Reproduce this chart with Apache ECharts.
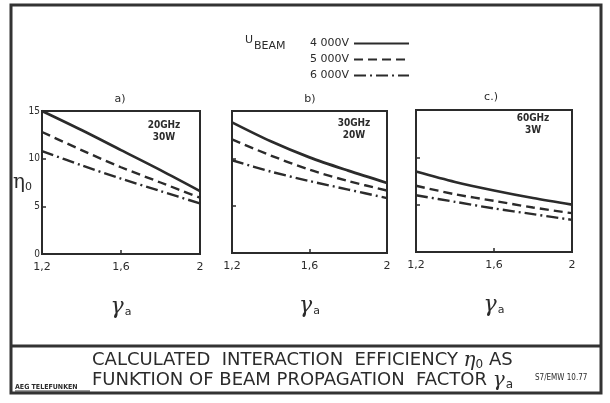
<!DOCTYPE html>
<html>
<head>
<meta charset="utf-8">
<script src="https://cdn.jsdelivr.net/npm/echarts@6/dist/echarts.min.js"></script>
<style>html,body{margin:0;padding:0;background:#fff;}#c{width:610px;height:403px;}</style>
</head>
<body>
<div id="c"></div>
<script>
// ---- data ----
const xValues = [1.2, 1.4, 1.6, 1.8, 2.0];
const seriesNames = ['4 000V', '5 000V', '6 000V'];
const panelLabels = ['a)', 'b)', 'c.)'];
const panelNotes = ['20GHz\n30W', '30GHz\n20W', '60GHz\n3W'];
// panel a (20 GHz, 30 W)
const a4000 = [15.0, 13.0, 10.9, 8.8, 6.6];
const a5000 = [12.8, 10.9, 9.1, 7.5, 5.9];
const a6000 = [10.8, 9.3, 7.9, 6.6, 5.3];
// panel b (30 GHz, 20 W)
const b4000 = [13.8, 11.8, 10.1, 8.7, 7.4];
const b5000 = [12.0, 10.3, 8.8, 7.6, 6.6];
const b6000 = [9.8, 8.6, 7.6, 6.7, 5.8];
// panel c (60 GHz, 3 W)
const c4000 = [8.5, 7.4, 6.5, 5.7, 5.0];
const c5000 = [7.0, 6.1, 5.4, 4.7, 4.1];
const c6000 = [6.0, 5.3, 4.6, 4.0, 3.4];
const yTicks = [0, 5, 10, 15];
const xTickLabels = ['1,2', '1,6', '2'];

const panels = [[a4000, a5000, a6000], [b4000, b5000, b6000], [c4000, c5000, c6000]];

// ---- layout ----
const ink = '#2b2b2b';
const grids = [
  {left: 42, top: 111, width: 158, height: 143},
  {left: 232, top: 111, width: 155, height: 142},
  {left: 416, top: 110, width: 156, height: 142}
];
const lineTypes = ['solid', [9, 5], [12, 4, 2, 4]];

const chart = echarts.init(document.getElementById('c'), null, {renderer: 'canvas'});

const xAxes = grids.map((g, i) => ({
  gridIndex: i, type: 'value', min: 1.2, max: 2.0, interval: 0.4,
  axisLine: {show: true, lineStyle: {color: ink, width: 2}},
  axisTick: {show: true, inside: true, length: 4, lineStyle: {color: ink, width: 1.5}},
  splitLine: {show: false},
  axisLabel: {
    margin: 8, color: ink, fontSize: 11, fontFamily: 'DejaVu Sans',
    formatter: v => xTickLabels[Math.round((v - 1.2) / 0.4)] || ''
  },
  name: '{g|γ}{s|a}', nameLocation: 'middle', nameGap: 42,
  nameTextStyle: {rich: {
    g: {fontSize: 22, fontFamily: 'DejaVu Serif', fontStyle: 'italic', color: ink},
    s: {fontSize: 11, fontFamily: 'DejaVu Sans', color: ink, padding: [10, 0, 0, 1]}
  }}
}));

const yAxes = grids.map((g, i) => ({
  gridIndex: i, type: 'value', min: 0, max: 15, interval: 5,
  axisLine: {show: true, lineStyle: {color: ink, width: 2}},
  axisTick: {show: true, inside: true, length: 4, lineStyle: {color: ink, width: 1.5}},
  splitLine: {show: false},
  axisLabel: {show: i === 0, margin: 2, color: ink, fontSize: 10, fontFamily: 'DejaVu Sans Condensed',
    formatter: v => yTicks.indexOf(v) >= 0 ? String(v) : ''},
  name: i === 0 ? '{e|η}{s|0}' : '', nameLocation: 'middle', nameGap: 10, nameRotate: 0,
  nameMoveOverlap: false,
  nameTextStyle: {rich: {
    e: {fontSize: 20, fontFamily: 'DejaVu Serif', color: ink},
    s: {fontSize: 11, fontFamily: 'DejaVu Sans', color: ink, padding: [10, 0, 0, 0]}
  }}
}));

const series = [];
panels.forEach((set, p) => {
  set.forEach((vals, k) => {
    series.push({
      name: seriesNames[k], type: 'line', xAxisIndex: p, yAxisIndex: p,
      data: xValues.map((x, j) => [x, vals[j]]),
      smooth: 0.3, symbol: 'none', silent: true,
      lineStyle: {color: ink, width: k === 0 ? 2.7 : 2.4, type: lineTypes[k]},
      itemStyle: {color: ink}
    });
  });
});

const titles = [];
const labelPos = [[120, 94], [310, 94], [491, 92]];
panelLabels.forEach((t, i) => titles.push({
  text: t, left: labelPos[i][0], top: labelPos[i][1], textAlign: 'center', padding: 0,
  textStyle: {fontSize: 11, fontWeight: 'normal', color: ink, fontFamily: 'DejaVu Sans'}
}));
const notePos = [[164, 119], [354, 117], [533, 112]];
panelNotes.forEach((t, i) => titles.push({
  text: t, left: notePos[i][0], top: notePos[i][1], textAlign: 'center', padding: 0,
  textStyle: {fontSize: 10, fontWeight: 'bold', color: ink, fontFamily: 'DejaVu Sans Condensed', lineHeight: 12}
}));
titles.push({
  text: '{u|U}{b|BEAM}', left: 245, top: 35, padding: 0,
  textStyle: {fontWeight: 'normal', rich: {
    u: {fontSize: 11, fontWeight: 'normal', color: ink, fontFamily: 'DejaVu Sans', padding: [0, 0, 6, 0]},
    b: {fontSize: 11, fontWeight: 'normal', color: ink, fontFamily: 'DejaVu Sans', padding: [6, 0, 0, 1]}
  }}
});
titles.push({
  text: 'CALCULATED  INTERACTION  EFFICIENCY {e|η}{s|0} AS', left: 92, top: 350, padding: 0,
  textStyle: {fontSize: 18, fontWeight: 'normal', color: ink, fontFamily: 'DejaVu Sans',
    rich: {e: {fontSize: 20, fontFamily: 'DejaVu Serif', fontStyle: 'italic', color: ink},
           s: {fontSize: 12, color: ink, padding: [9, 0, 0, 0]}}}
});
titles.push({
  text: 'FUNKTION OF BEAM PROPAGATION  FACTOR {g|γ}{s|a}', left: 92, top: 370, padding: 0,
  textStyle: {fontSize: 18, fontWeight: 'normal', color: ink, fontFamily: 'DejaVu Sans',
    rich: {g: {fontSize: 20, fontFamily: 'DejaVu Serif', fontStyle: 'italic', color: ink},
           s: {fontSize: 12, color: ink, padding: [9, 0, 0, 1]}}}
});
titles.push({
  text: 'AEG TELEFUNKEN', left: 15, top: 384, padding: 0,
  textStyle: {fontSize: 7, fontWeight: 'bold', color: ink, fontFamily: 'DejaVu Sans Condensed'}
});
titles.push({
  text: 'S7/EMW 10.77', left: 535, top: 374, padding: 0,
  textStyle: {fontSize: 8, fontWeight: 'normal', color: ink, fontFamily: 'DejaVu Sans Condensed'}
});

chart.setOption({
  animation: false,
  backgroundColor: '#ffffff',
  title: titles,
  legend: {
    data: seriesNames, orient: 'vertical', left: 305, top: 33, align: 'right',
    itemWidth: 55, itemHeight: 10, itemGap: 5, selectedMode: false,
    itemStyle: {opacity: 0},
    textStyle: {fontSize: 11, color: ink, fontFamily: 'DejaVu Sans'}
  },
  grid: grids.map(g => Object.assign({show: true, borderColor: ink, borderWidth: 2, containLabel: false}, g)),
  xAxis: xAxes,
  yAxis: yAxes,
  series: series,
  graphic: [
    {type: 'rect', shape: {x: 11, y: 5, width: 590, height: 388}, style: {fill: 'none', stroke: '#333', lineWidth: 3}, silent: true},
    {type: 'line', shape: {x1: 11, y1: 346, x2: 601, y2: 346}, style: {stroke: '#333', lineWidth: 3}, silent: true},
    {type: 'line', shape: {x1: 15, y1: 391, x2: 90, y2: 391}, style: {stroke: '#333', lineWidth: 1}, silent: true}
  ]
});
</script>
</body>
</html>
